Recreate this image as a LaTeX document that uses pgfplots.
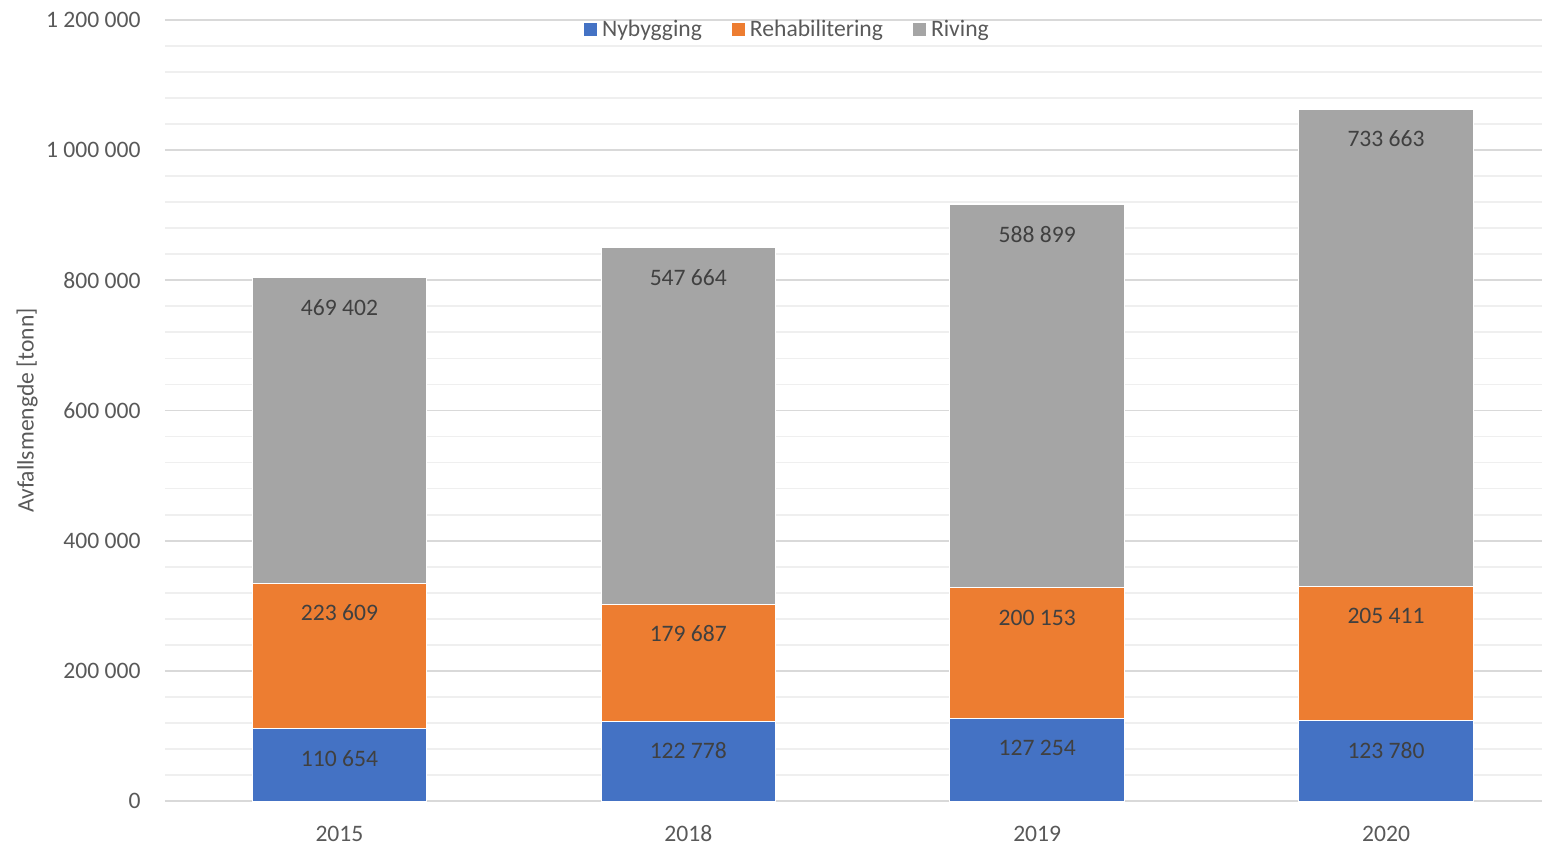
\documentclass[border=0pt]{standalone}
\usepackage{pgfplots}
\pgfplotsset{compat=1.18}
\usepackage{fontspec}
\setmainfont{Carlito}
\usetikzlibrary{calc}
\definecolor{cblue}{HTML}{4472C4}
\definecolor{corange}{HTML}{ED7D31}
\definecolor{cgray}{HTML}{A5A5A5}
\definecolor{ctext}{HTML}{595959}
\definecolor{clabel}{HTML}{404040}
\definecolor{gmajor}{HTML}{D9D9D9}
\definecolor{gminor}{HTML}{EFEFEF}
\newcommand{\cf}{\fontsize{11.8}{14}\selectfont}
\begin{document}
\begin{tikzpicture}
\begin{axis}[name=ax, scale only axis, width=688.5pt, height=390.5pt,
  ybar stacked, bar width=0.5,
  xmin=-0.5, xmax=3.447, ymin=0, ymax=1200000,
  xtick={0,1,2,3}, xticklabels={2015,2018,2019,2020},
  ytick={0,200000,400000,600000,800000,1000000,1200000},
  minor y tick num=4,
  ymajorgrids, yminorgrids,
  major grid style={draw=gmajor, line width=0.9pt},
  minor grid style={draw=gminor, line width=0.9pt},
  axis line style={draw=none},
  major tick length=0pt, minor tick length=0pt,
  scaled y ticks=false,
  /pgf/number format/.cd, fixed, precision=0, 1000 sep={\ }, assume math mode=true,
  /pgfplots/.cd,
  tick label style={font=\cf, text=ctext},
  yticklabel style={inner sep=0pt, anchor=east, xshift=-12pt},
  xticklabel style={inner sep=0pt, anchor=center, yshift=-16.5pt},
  ylabel={Avfallsmengde [tonn]},
  ylabel style={font=\cf, text=ctext, at={(axis description cs:-0.1002,0.5)}, anchor=center, rotate=0},
  visualization depends on={rawy/1000 \as \myk},
  nodes near coords,
  every node near coord/.append style={font=\cf, text=clabel, anchor=center, yshift={\myk*0.162708pt-14.8pt}},
  legend columns=-1,
  legend style={at={(0.4524,0.9872)}, anchor=center, draw=none, fill=none,
    font=\cf, text=ctext,
    /tikz/every even column/.append style={column sep=12.5pt}},
  legend image code/.code={\fill[#1] (0pt,-3.5pt) rectangle (7pt,3.5pt);},
  every axis plot/.append style={draw=white, line width=0.5pt},
]
\addplot[fill=cblue] coordinates {(0,110654) (1,122778) (2,127254) (3,123780)};
\addplot[fill=corange] coordinates {(0,223609) (1,179687) (2,200153) (3,205411)};
\addplot[fill=cgray] coordinates {(0,469402) (1,547664) (2,588899) (3,733663)};
\legend{Nybygging,Rehabilitering,Riving}
\end{axis}
\pgfresetboundingbox
\path[use as bounding box] ($(ax.south west)+(-82.5pt,-22.5pt)$) rectangle ($(ax.north east)+(0pt,10pt)$);
\end{tikzpicture}
\end{document}
